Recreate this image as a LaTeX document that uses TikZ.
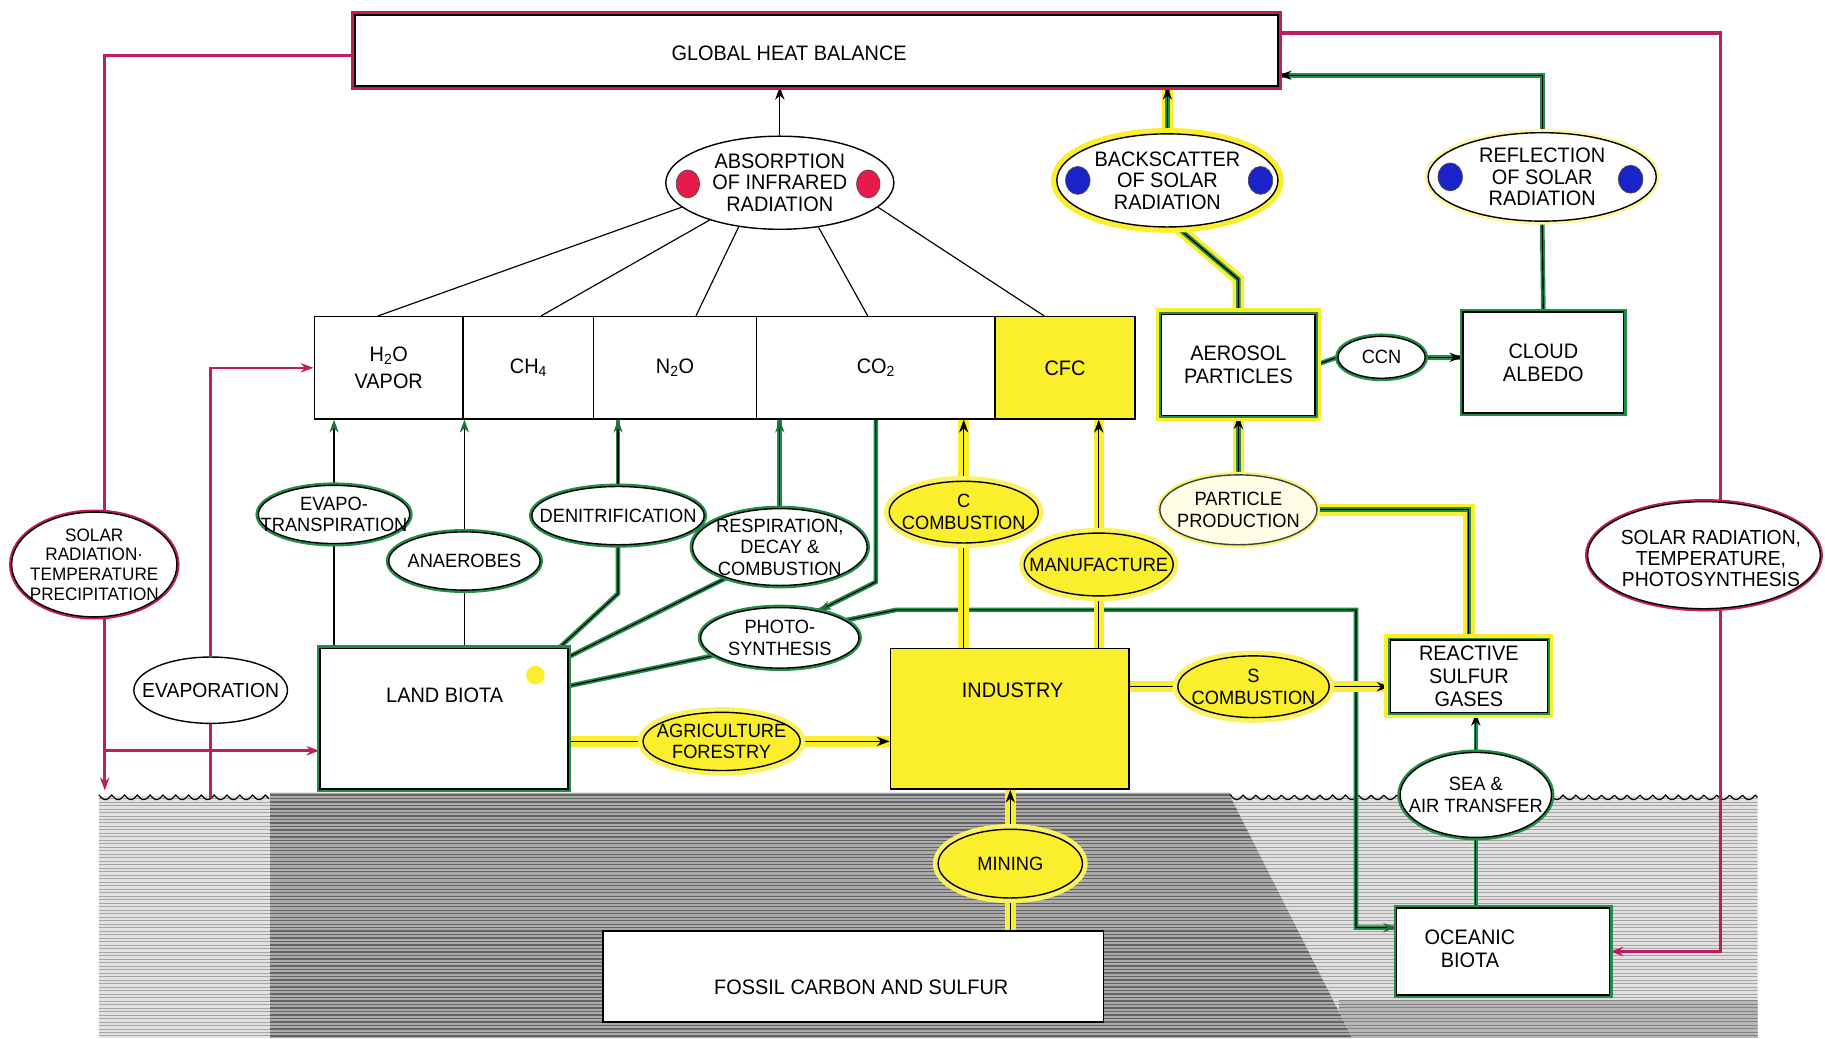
\documentclass[tikz,border=0pt]{standalone}
\usepackage{fontspec}
\setmainfont{Liberation Sans}[FakeStretch=0.95]
\usetikzlibrary{shapes.geometric,arrows.meta}
\pgfdeclarelayer{ground}
\pgfdeclarelayer{links}
\pgfsetlayers{ground,links,main}

\definecolor{mkmag}{RGB}{190,30,95}
\definecolor{mkgreen}{RGB}{35,140,75}
\definecolor{mkyellow}{RGB}{250,238,45}
\definecolor{dotred}{RGB}{232,25,75}
\definecolor{dotblue}{RGB}{25,35,200}
\definecolor{gdark}{RGB}{170,170,170}
\definecolor{gdarkline}{RGB}{100,100,100}
\definecolor{glight}{RGB}{225,225,225}
\definecolor{glightline}{RGB}{165,165,165}

\tikzset{
  every node/.style={font=\fontsize{16.5}{18.5}\selectfont},
  lbl/.style={align=center, inner sep=0pt},
  biglbl/.style={lbl, font=\fontsize{18}{18.5}\selectfont},
  boxlbl/.style={align=center, inner sep=0pt, font=\fontsize{18}{19.5}\selectfont},
  ebase/.style={ellipse, inner sep=0pt, fill=white, draw=black, line width=1.2pt},
  eplain/.style={ebase},
  egreen/.style={ebase, preaction={draw=mkgreen, line width=5pt}},
  emag/.style={ebase, preaction={draw=mkmag, line width=4.5pt}},
  eyel/.style={ebase, fill=mkyellow, preaction={draw=mkyellow!75, line width=9pt}},
  epale/.style={ebase, fill=mkyellow!12, draw=black!75, preaction={draw=mkyellow!70, line width=5pt}},
  eglow/.style={ebase, preaction={draw=mkyellow, line width=10pt}},
  esoft/.style={ebase, preaction={draw=mkyellow!45, line width=6pt}},
  box/.style={rectangle, inner sep=0pt, draw=black, line width=1.3pt, fill=white,
    align=center, font=\fontsize{18}{19.5}\selectfont},
  cell/.style={box, minimum height=88pt},
  gbox/.style={box, preaction={draw=mkgreen, line width=5pt}},
  gybox/.style={box, preaction={draw=mkyellow, line width=10pt}, preaction={draw=mkgreen, line width=4pt}},
  heatbox/.style={box, preaction={draw=mkmag, line width=7pt}},
  dot/.style={ellipse, inner sep=0pt, draw=black!70, line width=0.6pt},
  ln/.style={draw=black, line width=1pt},
  gln/.style={ln, preaction={draw=mkgreen, line width=4pt, arrows=-}},
  yln/.style={ln, preaction={draw=mkyellow, line width=9pt, arrows=-}},
  gyln/.style={ln, preaction={draw=mkyellow, line width=10pt, arrows=-},
    preaction={draw=mkgreen, line width=4pt, arrows=-}},
  mln/.style={draw=mkmag, line width=3pt},
  arr/.style={-{Stealth[length=11pt,width=8pt]}},
  garr/.style={-{Stealth[length=11pt,width=8pt,color=mkgreen!80!black]}},
}

\begin{document}
\begin{tikzpicture}[x=1pt,y=-1pt]
\useasboundingbox (0,0) rectangle (1568,892);

% ---------- ground and sea ----------
\begin{pgfonlayer}{ground}
  % shore strip on the left
  \begin{scope}
    \clip (85,684) rectangle (232,892);
    \fill[glight] (85,684) rectangle (232,892);
    \foreach \yy in {686,689,...,892} \draw[glightline, line width=0.7pt] (80,\yy) -- (240,\yy);
  \end{scope}
  % continental crust
  \begin{scope}
    \clip (232,681) -- (1057,681) -- (1162,892) -- (232,892) -- cycle;
    \fill[gdark] (220,670) rectangle (1200,900);
    \foreach \yy in {683,686,...,892} \draw[gdarkline, line width=1.1pt] (220,\yy) -- (1200,\yy);
  \end{scope}
  % ocean
  \begin{scope}
    \clip (1057,684) -- (1510,684) -- (1510,892) -- (1162,892) -- cycle;
    \fill[glight] (1050,684) rectangle (1520,892);
    \foreach \yy in {686,689,...,892} \draw[glightline, line width=0.7pt] (1050,\yy) -- (1520,\yy);
    \fill[gdark!85] (1150,859) rectangle (1520,892);
    \foreach \yy in {860,863,...,892} \draw[gdarkline!80, line width=0.9pt] (1150,\yy) -- (1520,\yy);
  \end{scope}
  % water surfaces
  \draw[line width=1pt] plot[domain=85:231, samples=200] (\x, {683+4*abs(sin(16.3636*(\x-85)))});
  \draw[line width=1pt] plot[domain=1057:1510, samples=500] (\x, {683+4*abs(sin(16.3636*(\x-1057)))});
\end{pgfonlayer}

% ---------- boxes ----------
\node[heatbox, minimum width=793pt, minimum height=61pt] (heat) at (701.5,43.5) {};
\node[lbl, font=\fontsize{18}{20}\selectfont] (heat-t) at (678,46) {GLOBAL HEAT BALANCE};

\node[cell, minimum width=128pt] (h2o) at (334,316) {H\textsubscript{2}O\\[4pt]VAPOR};
\node[cell, minimum width=112pt] (ch4) at (454,316) {CH\textsubscript{4}};
\node[cell, minimum width=140pt] (n2o) at (580,316) {N\textsubscript{2}O};
\node[cell, minimum width=205pt] (co2) at (752.5,316) {CO\textsubscript{2}};
\node[cell, fill=mkyellow, minimum width=120pt] (cfc) at (915,316) {CFC};

\node[gybox, minimum width=132pt, minimum height=87pt] (aer) at (1064,313.5) {AEROSOL\\PARTICLES};
\node[gbox, minimum width=138pt, minimum height=87pt] (cloud) at (1326,311.5) {CLOUD\\ALBEDO};

\node[gbox, minimum width=213pt, minimum height=121pt] (land) at (381.5,617.5) {};
\node[boxlbl] (land-t) at (382,597) {LAND BIOTA};
\fill[mkyellow] (460,580) circle (8pt);

\node[box, fill=mkyellow, minimum width=205pt, minimum height=121pt] (ind) at (867.5,617.5) {};
\node[boxlbl] (ind-t) at (870,593) {INDUSTRY};

\node[gybox, minimum width=135pt, minimum height=62pt] (rsg) at (1262,581) {REACTIVE\\SULFUR\\GASES};
\node[gbox, minimum width=183pt, minimum height=75pt] (ocean) at (1291.5,817.5) {};
\node[boxlbl] (ocean-t) at (1263,815) {OCEANIC\\BIOTA};
\node[box, minimum width=430pt, minimum height=78pt] (fossil) at (733,839) {};
\node[boxlbl] (fossil-t) at (740,848) {FOSSIL CARBON AND SULFUR};

% ---------- processes ----------
\node[eplain, minimum width=196pt, minimum height=80pt] (absorb) at (670,157) {};
\node[biglbl] (absorb-t) at (absorb) {ABSORPTION\\OF INFRARED\\RADIATION};
\node[dot, fill=dotred, minimum width=20pt, minimum height=24pt] (irL) at (591,158) {};
\node[dot, fill=dotred, minimum width=20pt, minimum height=24pt] (irR) at (746,158) {};

\node[eglow, minimum width=190pt, minimum height=80pt] (bs) at (1003,155) {};
\node[biglbl] (bs-t) at (bs) {BACKSCATTER\\OF SOLAR\\RADIATION};
\node[dot, fill=dotblue, minimum width=21pt, minimum height=24pt] (bsL) at (926,155) {};
\node[dot, fill=dotblue, minimum width=21pt, minimum height=24pt] (bsR) at (1083,155) {};

\node[esoft, minimum width=196pt, minimum height=76pt] (refl) at (1325,152) {};
\node[biglbl] (refl-t) at (refl) {REFLECTION\\OF SOLAR\\RADIATION};
\node[dot, fill=dotblue, minimum width=21pt, minimum height=24pt] (rfL) at (1246,152) {};
\node[dot, fill=dotblue, minimum width=21pt, minimum height=24pt] (rfR) at (1401,154) {};

\node[egreen, minimum width=75pt, minimum height=36pt] (ccn) at (1187,307) {};
\node[lbl] (ccn-t) at (ccn) {CCN};
\node[epale, minimum width=135pt, minimum height=60pt] (pp) at (1064,438) {};
\node[lbl] (pp-t) at (pp) {PARTICLE\\PRODUCTION};

\node[emag, minimum width=142pt, minimum height=90pt] (solL) at (81,485) {};
\node[lbl, font=\fontsize{15.5}{16.8}\selectfont] (solL-t) at (solL) {SOLAR\\RADIATION·\\TEMPERATURE\\PRECIPITATION};
\node[emag, minimum width=200pt, minimum height=92pt] (solR) at (1464,477) {};
\node[lbl, font=\fontsize{17.5}{18}\selectfont] (solR-t) at (1470,480) {SOLAR RADIATION,\\TEMPERATURE,\\PHOTOSYNTHESIS};

\node[eplain, minimum width=132pt, minimum height=57pt] (evap) at (181,593) {};
\node[lbl, font=\fontsize{17.5}{19}\selectfont] (evap-t) at (evap) {EVAPORATION};
\node[egreen, minimum width=130pt, minimum height=50pt] (evapo) at (287,442) {};
\node[lbl] (evapo-t) at (evapo) {EVAPO-\\TRANSPIRATION};
\node[egreen, minimum width=130pt, minimum height=50pt] (anaer) at (399,482) {};
\node[lbl] (anaer-t) at (anaer) {ANAEROBES};
\node[egreen, minimum width=148pt, minimum height=50pt] (denit) at (531,443) {};
\node[lbl] (denit-t) at (denit) {DENITRIFICATION};
\node[egreen, minimum width=150pt, minimum height=66pt] (resp) at (670,470) {};
\node[lbl] (resp-t) at (resp) {RESPIRATION,\\DECAY \&\\COMBUSTION};
\node[egreen, minimum width=136pt, minimum height=52pt] (photo) at (670,548) {};
\node[lbl] (photo-t) at (photo) {PHOTO-\\SYNTHESIS};

\node[eyel, minimum width=128pt, minimum height=53pt] (ccomb) at (828,440) {};
\node[lbl] (ccomb-t) at (ccomb) {C\\COMBUSTION};
\node[eyel, minimum width=128pt, minimum height=54pt] (manu) at (944,485) {};
\node[lbl] (manu-t) at (manu) {MANUFACTURE};
\node[eyel, minimum width=135pt, minimum height=50pt] (agri) at (620,637) {};
\node[lbl] (agri-t) at (agri) {AGRICULTURE\\FORESTRY};
\node[eyel, minimum width=130pt, minimum height=53pt] (scomb) at (1077,590) {};
\node[lbl] (scomb-t) at (scomb) {S\\COMBUSTION};
\node[egreen, minimum width=130pt, minimum height=73pt] (sea) at (1268,683) {};
\node[lbl] (sea-t) at (sea) {SEA \&\\AIR TRANSFER};
\node[eyel, minimum width=124pt, minimum height=59pt] (mining) at (868,742) {};
\node[lbl] (mining-t) at (mining) {MINING};

% ---------- helper levels for bends ----------
\coordinate (lvlDen) at (0,510);
\coordinate (lvlCO2) at (0,500);
\coordinate (bendPh) at (770,524);
\coordinate (bendPhR) at (1165,524);
\coordinate (lvlOc) at (0,797);
\coordinate (lvlAer) at (0,240);
\coordinate (lvlLand) at (0,645);
\coordinate (lvlSurf) at (0,679);
\coordinate (surfE) at (181,686);
\coordinate (xL) at (90,0);
\coordinate (xR) at (1478,0);

% ---------- connectors ----------
\begin{pgfonlayer}{links}
  % infrared absorption
  \draw[ln,arr] (absorb.north) -- (absorb.north |- heat.south);
  \draw[ln] (absorb.194) -- ([xshift=-9pt]h2o.north);
  \draw[ln] (absorb.208) -- ([xshift=11pt]ch4.north);
  \draw[ln] (absorb.227) -- ([xshift=18pt]n2o.north);
  \draw[ln] (absorb.311) -- ([xshift=-7pt]co2.north);
  \draw[ln] (absorb.346) -- ([xshift=-18pt]cfc.north);

  % land biota sources
  \draw[ln] (land.north -| evapo) -- (evapo.south);
  \draw[ln,garr] (evapo.north) -- (evapo.north |- h2o.south);
  \draw[ln] (land.north -| anaer) -- (anaer.south);
  \draw[ln,garr] (anaer.north) -- (anaer.north |- ch4.south);
  \draw[gln,garr] (denit.north) -- (denit.north |- n2o.south);
  \draw[gln] (denit.south) -- (denit.south |- lvlDen) -- ([xshift=-8pt]land.north east);
  \draw[gln,garr] (resp.north) -- (resp.north |- co2.south);
  \draw[gln] (resp.210) -- ([yshift=-8pt]land.north east);
  \draw[gln] (photo.195) -- ([yshift=-33pt]land.north east);
  \draw[gln,garr] (co2.south) -- (co2.south |- lvlCO2) -- (photo.35);
  \draw[gln,garr] (photo.15) -- (bendPh) -- (bendPhR) -- (bendPhR |- lvlOc) -- (ocean.west |- lvlOc);

  % industry
  \draw[yln] (land.east |- agri) -- (agri.west);
  \draw[yln,arr] (agri.east) -- (ind.west |- agri);
  \draw[yln] (ind.north -| ccomb) -- (ccomb.south);
  \draw[yln,arr] (ccomb.north) -- (ccomb.north |- co2.south);
  \draw[yln] (ind.north -| manu) -- (manu.south);
  \draw[yln,arr] (manu.north) -- (manu.north |- cfc.south);
  \draw[yln] (ind.east |- scomb) -- (scomb.west);
  \draw[yln,arr] (scomb.east) -- (rsg.west |- scomb);
  \draw[yln] (fossil.north -| mining) -- (mining.south);
  \draw[yln,arr] (mining.north) -- (mining.north |- ind.south);

  % sulfur, aerosols and clouds
  \draw[gln,arr] (sea.north) -- (sea.north |- rsg.south);
  \draw[gln] (sea.south) -- (sea.south |- ocean.north);
  \draw[gyln] (rsg.north) -- (rsg.north |- pp.east) -- (pp.east);
  \draw[gyln,arr] (pp.north) -- (aer.south);
  \draw[gln] (aer.east) -- (ccn.west);
  \draw[gln,arr] (ccn.east) -- (cloud.west |- ccn);
  \draw[gyln] (aer.north) -- (aer.north |- lvlAer) -- (bs.282);
  \draw[gyln,arr] (bs.north) -- (bs.north |- heat.south);
  \draw[gln] (cloud.north) -- (refl.south);
  \draw[gln,arr] (refl.north) |- ([yshift=10pt]heat.south east);

  % climate forcing loops
  \draw[mln] ([yshift=-4pt]heat.west) -| (xL |- solL.north);
  \draw[mln,arr] (xL |- solL.south) -- (xL |- lvlSurf);
  \draw[mln,arr] (xL |- lvlLand) -- (land.west |- lvlLand);
  \draw[mln, line width=2.2pt] (surfE) -- (evap.south);
  \draw[mln, line width=2.2pt, arr] (evap.north) |- (h2o.west);
  \draw[mln] ([yshift=-16pt]heat.north east) -| (xR |- solR.north);
  \draw[mln,arr] (xR |- solR.south) |- (ocean.east);
\end{pgfonlayer}
\end{tikzpicture}
\end{document}
